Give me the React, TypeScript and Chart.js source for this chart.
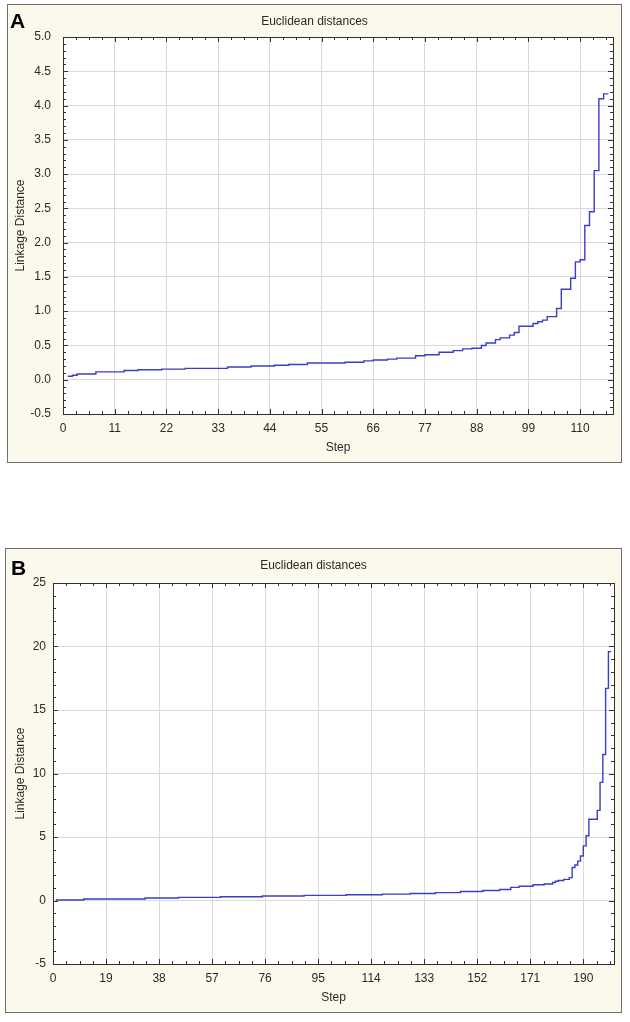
import React, { useEffect, useRef } from "react";
import { Chart, registerables } from "chart.js";

Chart.register(...registerables);

// ---------------- Data ----------------
const chartTitle = "Euclidean distances";
const xAxisTitle = "Step";
const yAxisTitle = "Linkage Distance";

// Panel A: linkage distance at steps 1..116
const linkageA = [
  0.05, 0.05, 0.065, 0.083, 0.083, 0.083, 0.083, 0.115, 0.115, 0.115,
  0.115, 0.115, 0.115, 0.135, 0.135, 0.135, 0.145, 0.145, 0.145, 0.145,
  0.145, 0.155, 0.155, 0.155, 0.155, 0.155, 0.165, 0.165, 0.165, 0.165,
  0.165, 0.165, 0.165, 0.165, 0.165, 0.185, 0.185, 0.185, 0.185, 0.185,
  0.2, 0.2, 0.2, 0.2, 0.2, 0.212, 0.212, 0.212, 0.222, 0.222,
  0.222, 0.222, 0.245, 0.245, 0.245, 0.245, 0.245, 0.245, 0.245, 0.245,
  0.255, 0.255, 0.255, 0.255, 0.275, 0.275, 0.288, 0.288, 0.288, 0.3,
  0.3, 0.315, 0.315, 0.315, 0.315, 0.35, 0.35, 0.365, 0.365, 0.365,
  0.4, 0.4, 0.4, 0.425, 0.425, 0.45, 0.45, 0.46, 0.46, 0.5,
  0.535, 0.535, 0.585, 0.61, 0.61, 0.65, 0.69, 0.78, 0.78, 0.78,
  0.82, 0.845, 0.87, 0.92, 0.92, 1.04, 1.32, 1.32, 1.48, 1.72,
  1.75, 2.25, 2.45, 3.05, 4.1, 4.17,
];

// Panel B: linkage distance at steps 1..200
const linkageB = [
  0.04, 0.04, 0.04, 0.04, 0.04, 0.04, 0.04, 0.04, 0.04, 0.04,
  0.04, 0.12, 0.12, 0.12, 0.12, 0.12, 0.12, 0.12, 0.12, 0.12,
  0.12, 0.12, 0.12, 0.12, 0.12, 0.12, 0.12, 0.12, 0.12, 0.12,
  0.12, 0.12, 0.12, 0.2, 0.2, 0.2, 0.2, 0.2, 0.2, 0.2,
  0.2, 0.2, 0.2, 0.2, 0.2, 0.25, 0.25, 0.25, 0.25, 0.25,
  0.25, 0.25, 0.25, 0.25, 0.25, 0.25, 0.25, 0.25, 0.25, 0.25,
  0.3, 0.3, 0.3, 0.3, 0.3, 0.3, 0.3, 0.3, 0.3, 0.3,
  0.3, 0.3, 0.3, 0.3, 0.3, 0.35, 0.35, 0.35, 0.35, 0.35,
  0.35, 0.35, 0.35, 0.35, 0.35, 0.35, 0.35, 0.35, 0.35, 0.35,
  0.4, 0.4, 0.4, 0.4, 0.4, 0.4, 0.4, 0.4, 0.4, 0.4,
  0.4, 0.4, 0.4, 0.4, 0.4, 0.45, 0.45, 0.45, 0.45, 0.45,
  0.45, 0.45, 0.45, 0.45, 0.45, 0.45, 0.45, 0.45, 0.5, 0.5,
  0.5, 0.5, 0.5, 0.5, 0.5, 0.5, 0.5, 0.5, 0.55, 0.55,
  0.55, 0.55, 0.55, 0.55, 0.55, 0.55, 0.55, 0.62, 0.62, 0.62,
  0.62, 0.62, 0.62, 0.62, 0.62, 0.62, 0.71, 0.71, 0.71, 0.71,
  0.71, 0.71, 0.71, 0.71, 0.79, 0.79, 0.79, 0.79, 0.79, 0.79,
  0.87, 0.87, 0.87, 0.87, 1.03, 1.03, 1.03, 1.12, 1.12, 1.12,
  1.12, 1.12, 1.24, 1.24, 1.24, 1.24, 1.3, 1.3, 1.3, 1.42,
  1.52, 1.58, 1.58, 1.66, 1.66, 1.8, 2.6, 2.8, 3.1, 3.5,
  4.3, 5.1, 6.4, 6.4, 6.4, 7.1, 9.3, 11.5, 16.7, 19.6,
];

const stepTicksA = [0, 11, 22, 33, 44, 55, 66, 77, 88, 99, 110];
const stepTicksB = [0, 19, 38, 57, 76, 95, 114, 133, 152, 171, 190];
const distTicksA = [-0.5, 0, 0.5, 1, 1.5, 2, 2.5, 3, 3.5, 4, 4.5, 5];
const distTicksB = [-5, 0, 5, 10, 15, 20, 25];

// ---------------- Styling ----------------
const CREAM = "#fbf9ec";
const LINE = "#3c3cc8";
const GRID = "#d9d9d9";
const TEXT = "#2a2a2a";
const TICK_FAMILY = '"Liberation Sans Narrow", "Liberation Sans", Arial, sans-serif';
const TITLE_FAMILY = '"Liberation Sans", Arial, sans-serif';

type PanelCfg = {
  letter: string;
  values: number[];
  xTicks: number[];
  yTicks: number[];
  xMax: number;
  xMinor: number;
  xMajor: number;
  yMinor: number;
  yMajor: number;
  decimals: number;
  left: number;
  top: number;
  w: number;
  h: number;
  plotL: number;
  plotT: number;
  plotR: number;
  plotB: number;
  yPad: number;
  titleY: number;
  stepY: number;
  yTitleX: number;
  letterX: number;
  letterY: number;
};

const framePlugin = {
  id: "frame",
  beforeDraw(chart: any, _a: any, o: any) {
    const { ctx, width, height, chartArea: a } = chart;
    ctx.save();
    ctx.fillStyle = CREAM;
    ctx.fillRect(0, 0, width, height);
    ctx.strokeStyle = "#707070";
    ctx.lineWidth = 1;
    ctx.strokeRect(0.5, 0.5, width - 1, height - 1);
    ctx.fillStyle = "#ffffff";
    ctx.fillRect(a.left, a.top, a.right - a.left, a.bottom - a.top);
    ctx.restore();
  },
  afterDraw(chart: any, _a: any, o: any) {
    const { ctx, chartArea: a, scales } = chart;
    const xs = scales.x;
    const ys = scales.y;
    ctx.save();
    // ticks
    ctx.strokeStyle = "#333333";
    ctx.lineWidth = 1;
    ctx.beginPath();
    const xMax = xs.max;
    for (let k = 0; k * o.xMinor <= xMax + 1e-9; k++) {
      const v = k * o.xMinor;
      const r = v / o.xMajor;
      const major = Math.abs(r - Math.round(r)) < 1e-6;
      const len = major ? 5 : 3;
      const px = Math.round(xs.getPixelForValue(v)) + 0.5;
      ctx.moveTo(px, a.bottom);
      ctx.lineTo(px, a.bottom - len);
      ctx.moveTo(px, a.top);
      ctx.lineTo(px, a.top + len);
    }
    const yMin = ys.min;
    const yMax = ys.max;
    const nY = Math.round((yMax - yMin) / o.yMinor);
    for (let k = 0; k <= nY; k++) {
      const v = yMin + k * o.yMinor;
      const r = (v - yMin) / o.yMajor;
      const major = Math.abs(r - Math.round(r)) < 1e-6;
      const len = major ? 5 : 3;
      const py = Math.round(ys.getPixelForValue(v)) + 0.5;
      ctx.moveTo(a.left, py);
      ctx.lineTo(a.left + len, py);
      ctx.moveTo(a.right, py);
      ctx.lineTo(a.right - len, py);
    }
    ctx.stroke();
    // plot border
    ctx.strokeStyle = "#303030";
    ctx.strokeRect(
      Math.round(a.left) + 0.5,
      Math.round(a.top) + 0.5,
      Math.round(a.right - a.left),
      Math.round(a.bottom - a.top)
    );
    // texts
    ctx.fillStyle = TEXT;
    ctx.font = `12px ${TITLE_FAMILY}`;
    ctx.textAlign = "center";
    ctx.textBaseline = "middle";
    ctx.fillText(o.title, chart.width / 2, o.titleY);
    ctx.fillText(o.xTitle, (a.left + a.right) / 2, o.stepY);
    ctx.save();
    ctx.translate(o.yTitleX, (a.top + a.bottom) / 2);
    ctx.rotate(-Math.PI / 2);
    ctx.fillText(o.yTitle, 0, 0);
    ctx.restore();
    ctx.fillStyle = "#000000";
    ctx.font = `bold 21px ${TITLE_FAMILY}`;
    ctx.textAlign = "left";
    ctx.textBaseline = "alphabetic";
    ctx.fillText(o.letter, o.letterX, o.letterY);
    ctx.restore();
  },
};

function Panel({ cfg }: { cfg: PanelCfg }) {
  const ref = useRef<HTMLCanvasElement>(null);
  useEffect(() => {
    if (!ref.current) return;
    const tickFont = { family: TICK_FAMILY, size: 12 };
    const chart = new Chart(ref.current, {
      type: "line",
      data: {
        datasets: [
          {
            data: cfg.values.map((v, i) => ({ x: i + 1, y: v })),
            borderColor: LINE,
            borderWidth: 1.4,
            pointRadius: 0,
            stepped: "after",
            fill: false,
          },
        ],
      },
      options: {
        animation: false,
        responsive: false,
        devicePixelRatio: 1,
        layout: {
          padding: { left: 0, top: cfg.plotT, right: cfg.w - cfg.plotR, bottom: 0 },
        },
        plugins: {
          legend: { display: false },
          tooltip: { enabled: false },
          title: { display: false },
          frame: {
            title: chartTitle,
            xTitle: xAxisTitle,
            yTitle: yAxisTitle,
            letter: cfg.letter,
            xMinor: cfg.xMinor,
            xMajor: cfg.xMajor,
            yMinor: cfg.yMinor,
            yMajor: cfg.yMajor,
            titleY: cfg.titleY,
            stepY: cfg.stepY,
            yTitleX: cfg.yTitleX,
            letterX: cfg.letterX,
            letterY: cfg.letterY,
          },
        } as any,
        scales: {
          x: {
            type: "linear",
            min: 0,
            max: cfg.xMax,
            afterBuildTicks: (s: any) => {
              s.ticks = cfg.xTicks.map((v) => ({ value: v }));
            },
            afterFit: (s: any) => {
              s.height = cfg.h - cfg.plotB;
            },
            grid: { color: GRID, lineWidth: 1, drawTicks: false },
            border: { display: false },
            ticks: {
              font: tickFont,
              color: TEXT,
              padding: 7,
              maxRotation: 0,
              autoSkip: false,
              callback: (v: any) => String(v),
            },
          },
          y: {
            type: "linear",
            min: cfg.yTicks[0],
            max: cfg.yTicks[cfg.yTicks.length - 1],
            afterBuildTicks: (s: any) => {
              s.ticks = cfg.yTicks.map((v) => ({ value: v }));
            },
            afterFit: (s: any) => {
              s.width = cfg.plotL;
            },
            grid: { color: GRID, lineWidth: 1, drawTicks: false },
            border: { display: false },
            ticks: {
              font: tickFont,
              color: TEXT,
              padding: cfg.yPad,
              autoSkip: false,
              callback: (v: any) => Number(v).toFixed(cfg.decimals),
            },
          },
        },
      },
      plugins: [framePlugin],
    } as any);
    return () => chart.destroy();
  }, [cfg]);
  return (
    <canvas
      ref={ref}
      width={cfg.w}
      height={cfg.h}
      style={{ position: "absolute", left: cfg.left, top: cfg.top, width: cfg.w, height: cfg.h }}
    />
  );
}

const panelA: PanelCfg = {
  letter: "A",
  values: linkageA,
  xTicks: stepTicksA,
  yTicks: distTicksA,
  xMax: 117,
  xMinor: 2.75,
  xMajor: 11,
  yMinor: 0.1,
  yMajor: 0.5,
  decimals: 1,
  left: 7,
  top: 4,
  w: 615,
  h: 459,
  plotL: 56,
  plotT: 33,
  plotR: 606,
  plotB: 410,
  yPad: 12,
  titleY: 18,
  stepY: 444,
  yTitleX: 14,
  letterX: 3,
  letterY: 24,
};

const panelB: PanelCfg = {
  letter: "B",
  values: linkageB,
  xTicks: stepTicksB,
  yTicks: distTicksB,
  xMax: 201,
  xMinor: 4.75,
  xMajor: 19,
  yMinor: 1,
  yMajor: 5,
  decimals: 0,
  left: 5,
  top: 548,
  w: 617,
  h: 465,
  plotL: 48,
  plotT: 35,
  plotR: 609,
  plotB: 416,
  yPad: 7,
  titleY: 18,
  stepY: 450,
  yTitleX: 16,
  letterX: 6,
  letterY: 27,
};

export default function App() {
  return (
    <div style={{ position: "absolute", left: 0, top: 0, width: 630, height: 1022, background: "#ffffff" }}>
      <Panel cfg={panelA} />
      <Panel cfg={panelB} />
    </div>
  );
}
